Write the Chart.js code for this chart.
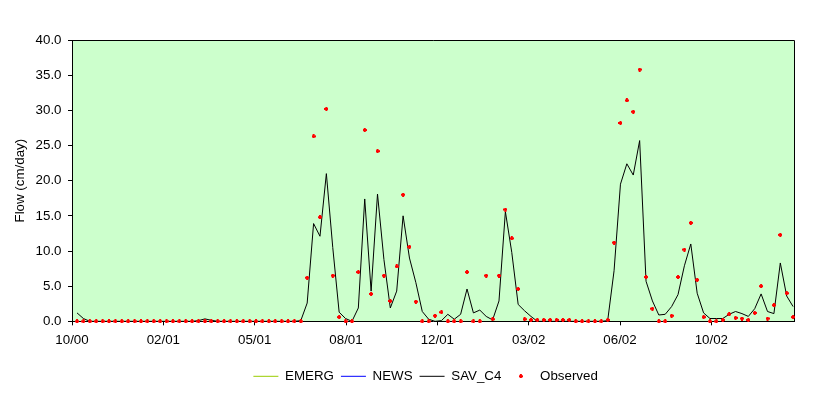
<!DOCTYPE html>
<html>
<head>
<meta charset="utf-8">
<script src="https://cdn.jsdelivr.net/npm/chart.js@4.4.0/dist/chart.umd.min.js"></script>
<style>
html,body{margin:0;padding:0;background:#ffffff;}
canvas{display:block;}
</style>
</head>
<body>
<canvas id="chart" width="830" height="397"></canvas>
<script>
// ---------------- data ----------------
const seriesNames = ['EMERG', 'NEWS', 'SAV_C4', 'Observed'];
const tickLabels = ['10/00', '02/01', '05/01', '08/01', '12/01', '03/02', '06/02', '10/02'];
const yTickStep = 5;
const yMin = 0;
const yMax = 40;

// weekly samples (113 weeks)
const sampleStepDays = 7;

const emerg = [];
const news = [];

const savC4 = [
  1.2, 0.4, 0, 0, 0, 0, 0, 0, 0, 0,
  0, 0, 0, 0, 0, 0, 0, 0, 0, 0.1,
  0.35, 0.15, 0, 0, 0, 0, 0, 0, 0, 0,
  0, 0, 0, 0, 0, 0.1, 2.6, 13.9, 12.1, 21.0,
  10.5, 1.3, 0.4, 0, 1.9, 17.4, 4.3, 18.1, 8.8, 1.9,
  4.3, 15.0, 9.0, 5.5, 1.4, 0.3, 0, 0.1, 1.0, 0.3,
  1.0, 4.6, 1.2, 1.6, 0.7, 0.2, 2.9, 15.6, 9.8, 2.4,
  1.5, 0.7, 0, 0, 0, 0, 0, 0, 0, 0,
  0, 0, 0, 0.1, 7.2, 19.5, 22.4, 20.8, 25.7, 5.7,
  2.9, 0.9, 1.0, 2.1, 3.8, 7.9, 11.0, 4.0, 1.2, 0.4,
  0.4, 0.4, 1.0, 1.4, 1.1, 0.7, 1.8, 3.9, 1.4, 1.1,
  8.3, 3.6, 2.1
];

const observed = [
  0, 0, 0, 0, 0, 0, 0, 0, 0, 0,
  0, 0, 0, 0, 0, 0, 0, 0, 0, 0,
  0, 0, 0, 0, 0, 0, 0, 0, 0, 0,
  0, 0, 0, 0, 0, 0, 6.2, 26.3, 14.8, 30.2,
  6.5, 0.6, 0, 0, 7.0, 27.2, 3.9, 24.2, 6.5, 2.9,
  7.8, 18.0, 10.6, 2.8, 0, 0, 0.8, 1.3, 0, 0,
  0, 7.0, 0, 0, 6.5, 0.3, 6.5, 15.9, 11.8, 4.6,
  0.3, 0.2, 0.2, 0.2, 0.2, 0.2, 0.2, 0.2, 0, 0,
  0, 0, 0, 0.2, 11.2, 28.2, 31.4, 29.8, 35.8, 6.3,
  1.8, 0, 0, 0.8, 6.3, 10.2, 14.0, 5.9, 0.6, 0,
  0, 0.2, 1.0, 0.5, 0.4, 0.2, 1.2, 5.0, 0.4, 2.3,
  12.3, 4.0, 0.6
];

// ---------------- axis definition (days from first sample) ----------------
const axisStartDay = -5.5;
const tickStepDays = 100;
const axisEndDay = 785;

// ---------------- layout / style ----------------
const FONT = { family: '"Liberation Sans", Arial, sans-serif', size: 13.33 };
const PLOT_BG = '#CCFFCC';
const LEGEND_CENTER_X = 425.6;
const LEGEND_CENTER_Y = 376.3;

Chart.defaults.font.family = FONT.family;
Chart.defaults.font.size = FONT.size;
Chart.defaults.color = '#000000';

function makeMarker(color) {
  const c = document.createElement('canvas');
  c.width = 4; c.height = 4;
  const g = c.getContext('2d');
  g.fillStyle = color;
  g.fillRect(1, 0, 2, 4);
  g.fillRect(0, 1, 4, 2);
  return c;
}
const observedMarker = makeMarker('#FF0000');

const toXY = (arr) => arr.map((v, i) => ({ x: i * sampleStepDays, y: v }));

const plotFrame = {
  id: 'plotFrame',
  beforeDraw(chart) {
    const { ctx, chartArea: a } = chart;
    ctx.save();
    ctx.fillStyle = PLOT_BG;
    ctx.fillRect(a.left, a.top, a.right - a.left, a.bottom - a.top);
    ctx.restore();
  },
  beforeDatasetsDraw(chart) {
    const { ctx, chartArea: a } = chart;
    ctx.save();
    ctx.strokeStyle = '#000000';
    ctx.lineWidth = 1;
    ctx.beginPath();
    ctx.moveTo(a.left, Math.round(a.top) + 0.5);
    ctx.lineTo(Math.round(a.right) + 0.5, Math.round(a.top) + 0.5);
    ctx.lineTo(Math.round(a.right) + 0.5, a.bottom);
    ctx.stroke();
    ctx.restore();
  }
};

const legendPlacement = {
  id: 'legendPlacement',
  afterLayout(chart) {
    const lg = chart.legend;
    if (!lg || !lg.lineWidths) return;
    const pad = lg.options.labels.padding;
    const itemsWidth = lg.lineWidths[0] - pad;
    const curStart = (lg.left + pad + lg.right - lg.lineWidths[0]) / 2;
    const dx = (LEGEND_CENTER_X - itemsWidth / 2) - curStart;
    const itemHeight = FONT.size;
    const curMid = lg.top + pad + itemHeight / 2;
    const dy = LEGEND_CENTER_Y - curMid;
    lg.left += dx; lg.right += dx;
    lg.top += dy; lg.bottom += dy;
  }
};

new Chart(document.getElementById('chart'), {
  type: 'line',
  data: {
    datasets: [
      { label: seriesNames[0], data: toXY(emerg), borderColor: '#99CC00', backgroundColor: '#99CC00',
        borderWidth: 1, pointRadius: 0, pointStyle: 'line', order: 2 },
      { label: seriesNames[1], data: toXY(news), borderColor: '#0000FF', backgroundColor: '#0000FF',
        borderWidth: 1, pointRadius: 0, pointStyle: 'line', order: 2 },
      { label: seriesNames[2], data: toXY(savC4), borderColor: '#000000', backgroundColor: '#000000',
        borderWidth: 1, pointRadius: 0, pointStyle: 'line', tension: 0, fill: false, order: 1 },
      { label: seriesNames[3], data: toXY(observed), showLine: false, borderColor: '#FF0000', backgroundColor: '#FF0000',
        pointStyle: observedMarker, pointRadius: 2, borderWidth: 0, clip: false, order: 0 }
    ]
  },
  options: {
    responsive: false,
    animation: false,
    devicePixelRatio: 1,
    layout: { padding: { top: 40, right: 36, left: 0, bottom: 0 } },
    plugins: {
      legend: {
        position: 'bottom',
        labels: {
          usePointStyle: true,
          pointStyleWidth: 25,
          padding: 7,
          color: '#000000',
          font: FONT,
          sort: (a, b) => a.datasetIndex - b.datasetIndex
        }
      },
      tooltip: { enabled: false }
    },
    scales: {
      x: {
        type: 'linear',
        min: axisStartDay,
        max: axisEndDay,
        afterBuildTicks: (s) => {
          s.ticks = tickLabels.map((_, k) => ({ value: axisStartDay + k * tickStepDays }));
        },
        afterFit: (s) => { s.height = 45.33; },
        grid: { display: true, drawOnChartArea: false, drawTicks: true, tickLength: 4, color: '#000000' },
        border: { display: true, color: '#000000', width: 1 },
        ticks: {
          callback: (v, i) => tickLabels[i],
          autoSkip: false, maxRotation: 0, minRotation: 0,
          padding: 7, color: '#000000', font: FONT
        }
      },
      y: {
        min: yMin,
        max: yMax,
        afterFit: (s) => { s.width = 72; },
        grid: { display: true, drawOnChartArea: false, drawTicks: true, tickLength: 4, color: '#000000' },
        border: { display: true, color: '#000000', width: 1 },
        ticks: {
          stepSize: yTickStep,
          callback: (v) => Number(v).toFixed(1),
          padding: 6.5, color: '#000000', font: FONT
        },
        title: {
          display: true, text: 'Flow (cm/day)', color: '#000000', font: FONT,
          padding: { top: 12, bottom: 0 }
        }
      }
    }
  },
  plugins: [plotFrame, legendPlacement]
});
</script>
</body>
</html>
